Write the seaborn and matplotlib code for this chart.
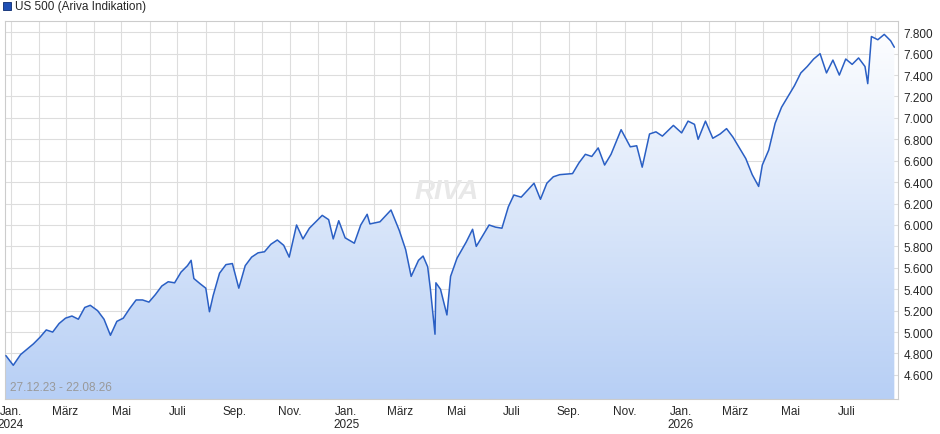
import pandas as pd
import numpy as np
import seaborn as sns
import matplotlib.pyplot as plt
import matplotlib.dates as mdates
from matplotlib.patches import Polygon, Rectangle

dates = ["2023-12-27","2024-01-04","2024-01-12","2024-01-19","2024-01-26","2024-02-02","2024-02-09","2024-02-16",
         "2024-02-23","2024-03-01","2024-03-08","2024-03-15","2024-03-22","2024-03-28","2024-04-05","2024-04-12",
         "2024-04-19","2024-04-26","2024-05-03","2024-05-10","2024-05-17","2024-05-24","2024-05-31","2024-06-07",
         "2024-06-14","2024-06-21","2024-06-28","2024-07-05","2024-07-12","2024-07-16","2024-07-19","2024-07-26",
         "2024-08-01","2024-08-05","2024-08-09","2024-08-16","2024-08-23","2024-08-30","2024-09-06","2024-09-13",
         "2024-09-20","2024-09-27","2024-10-04","2024-10-11","2024-10-18","2024-10-25","2024-10-31","2024-11-08",
         "2024-11-15","2024-11-22","2024-11-29","2024-12-06","2024-12-13","2024-12-18","2024-12-24","2024-12-31",
         "2025-01-10","2025-01-17","2025-01-24","2025-01-27","2025-02-07","2025-02-19","2025-02-28","2025-03-07",
         "2025-03-13","2025-03-21","2025-03-26","2025-03-31","2025-04-03","2025-04-08","2025-04-09","2025-04-14",
         "2025-04-21","2025-04-25","2025-05-02","2025-05-12","2025-05-19","2025-05-23","2025-06-06","2025-06-13",
         "2025-06-20","2025-06-27","2025-07-03","2025-07-11","2025-07-25","2025-08-01","2025-08-08","2025-08-15",
         "2025-08-22","2025-09-05","2025-09-12","2025-09-19","2025-09-26","2025-10-03","2025-10-10","2025-10-17",
         "2025-10-28","2025-11-07","2025-11-14","2025-11-20","2025-11-28","2025-12-05","2025-12-12","2025-12-24",
         "2026-01-02","2026-01-09","2026-01-16","2026-01-20","2026-01-28","2026-02-05","2026-02-13","2026-02-20",
         "2026-02-27","2026-03-06","2026-03-13","2026-03-20","2026-03-27","2026-03-31","2026-04-07","2026-04-14",
         "2026-04-21","2026-04-28","2026-05-05","2026-05-12","2026-05-19","2026-05-26","2026-06-02","2026-06-09",
         "2026-06-16","2026-06-23","2026-06-30","2026-07-07","2026-07-14","2026-07-21","2026-07-24","2026-07-28",
         "2026-08-04","2026-08-11","2026-08-18","2026-08-22"]
values = [4780,4690,4790,4840,4890,4950,5020,5000,
          5080,5130,5150,5120,5230,5250,5200,5120,
          4970,5100,5130,5220,5300,5300,5280,5350,
          5430,5470,5460,5560,5620,5670,5500,5450,
          5410,5190,5340,5550,5630,5640,5410,5620,
          5700,5740,5750,5820,5860,5810,5700,6000,
          5870,5970,6030,6090,6050,5870,6040,5880,
          5830,6000,6100,6010,6030,6140,5950,5770,
          5520,5670,5710,5610,5400,4980,5460,5400,
          5160,5520,5690,5840,5960,5800,6000,5980,
          5970,6170,6280,6260,6390,6240,6390,6450,
          6470,6480,6580,6660,6640,6720,6560,6660,
          6890,6730,6740,6540,6850,6870,6830,6930,
          6860,6970,6940,6800,6970,6810,6850,6900,
          6820,6720,6620,6470,6360,6560,6700,6950,
          7100,7200,7300,7420,7480,7550,7600,7420,
          7540,7400,7550,7500,7560,7480,7320,7760,
          7730,7780,7720,7660]
y_ticks = [4600,4800,5000,5200,5400,5600,5800,6000,6200,6400,6600,6800,7000,7200,7400,7600,7800]
month_names = {1: "Jan.", 3: "März", 5: "Mai", 7: "Juli", 9: "Sep.", 11: "Nov."}

df = pd.DataFrame({"date": pd.to_datetime(dates), "value": values})

sns.set_style("white")
plt.rcParams['font.family'] = ['Liberation Sans', 'DejaVu Sans']
fig = plt.figure(figsize=(9.4, 4.35), dpi=100)
ax = fig.add_axes([5/940, 35/435, 893/940, 378/435])

ymin, ymax = 4375, 7905
x0, x1 = mdates.date2num(pd.Timestamp("2023-12-26")), mdates.date2num(pd.Timestamp("2026-08-26"))

# gradient fill under the line: blue at the bottom, white at the top
grad = np.linspace(0, 1, 256).reshape(-1, 1)
cmap = plt.matplotlib.colors.LinearSegmentedColormap.from_list("g", ["#ffffff", "#b7cff5"])
im = ax.imshow(grad, aspect="auto", cmap=cmap, extent=[x0, x1, ymin, ymax], origin="upper", zorder=1)
xs = mdates.date2num(df["date"])
poly = np.column_stack([np.r_[xs[0], xs, xs[-1]], np.r_[ymin, df["value"], ymin]])
clip = Polygon(poly, transform=ax.transData, facecolor="none", edgecolor="none")
ax.add_patch(clip)
im.set_clip_path(clip)

sns.lineplot(data=df, x="date", y="value", ax=ax, color="#2a5fc4", linewidth=1.1, zorder=3)

ax.set_xlim(x0, x1)
ax.set_ylim(ymin, ymax)
months = pd.date_range("2024-01-01", "2026-08-01", freq="MS")
ax.set_xticks(mdates.date2num(months), minor=True)
ax.set_xticks(mdates.date2num(months[::2]))
labels = [month_names[m.month] + ("\n" + str(m.year) if m.month == 1 else "") for m in months[::2]]
ax.set_xticklabels(labels, fontsize=8.5, va="top")
ax.set_yticks(y_ticks)
ax.set_yticklabels([f"{v:,}".replace(",", ".") for v in y_ticks], fontsize=8.5)
ax.yaxis.tick_right()
ax.tick_params(axis="both", which="both", length=0, pad=4)
ax.grid(True, which="both", axis="x", color="#dddddd", linewidth=0.8, zorder=0)
ax.grid(True, which="major", axis="y", color="#dddddd", linewidth=0.8, zorder=0)
ax.set_axisbelow(True)
ax.set_xlabel("")
ax.set_ylabel("")
for s in ax.spines.values():
    s.set_color("#cccccc")

ax.text(0.006, 0.025, "27.12.23 - 22.08.26", transform=ax.transAxes, fontsize=8.5, color="#999999")
ax.text(0.495, 0.55, "RIVA", transform=ax.transAxes, fontsize=20, color="#e8e8e8",
        fontstyle="italic", fontweight="bold", ha="center", va="center", zorder=2)

fig.patches.append(Rectangle((3/940, 424/435), 8/940, 8/435, transform=fig.transFigure,
                             facecolor="#1f4fb4", edgecolor="#0a2a70", linewidth=0.6))
fig.text(15/940, 428/435, "US 500 (Ariva Indikation)", fontsize=8.5, va="center")

fig.savefig("out.png", dpi=100)
